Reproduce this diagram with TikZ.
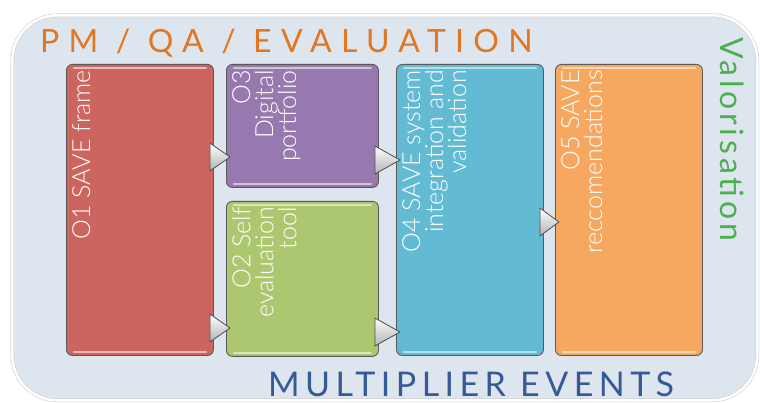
\documentclass[tikz,border=0pt]{standalone}
\usepackage{fontspec}
\setmainfont{Lato}[UprightFont={* Light}]
\newfontfamily\headfont{Lato}
\usetikzlibrary{calc}
\usetikzlibrary{positioning}
\definecolor{framefill}{RGB}{221,229,239}
\definecolor{pmorange}{RGB}{227,118,32}
\definecolor{meblue}{RGB}{55,90,150}
\definecolor{valgreen}{RGB}{76,175,80}
\definecolor{o1red}{RGB}{204,101,96}
\definecolor{o2green}{RGB}{172,199,112}
\definecolor{o3purple}{RGB}{151,121,176}
\definecolor{o4blue}{RGB}{98,187,211}
\definecolor{o5orange}{RGB}{246,168,96}
\tikzset{
  frame/.style={draw=black!18, double=white, double distance=2.5pt, line width=0.6pt,
    fill=framefill, rounded corners=45pt, anchor=north west, inner sep=0pt},
  outbox/.style={draw=black!65, line width=0.9pt, rounded corners=6pt, anchor=north west, inner sep=0pt},
  boxtext/.style={rotate=90, anchor=north east, inner sep=0pt, text=white,
    font=\fontsize{25}{23}\selectfont, align=right},
  shine/.style={line width=2.5pt, line cap=round, draw=#1!45!white},
  flowtip/.style={draw=black!70, line width=0.8pt, line join=round, top color=white, bottom color=black!30},
  heading/.style={inner sep=0pt, anchor=base west}
}

\begin{document}
\begin{tikzpicture}[x=1pt, y=-1pt]
  \useasboundingbox (0,0) rectangle (760,403);
  \node[frame, minimum width=745pt, minimum height=385pt] (bg) at (12,15) {};

  \node[heading, text=pmorange, font=\headfont\fontsize{32}{36}\selectfont\addfontfeature{LetterSpace=29}] (pm) at (40,53) {PM / QA / EVALUATION};
  \node[heading, text=meblue, font=\headfont\fontsize{34}{38}\selectfont\addfontfeature{LetterSpace=16}] (me) at (268,396) {MULTIPLIER EVENTS};
  \node[heading, rotate=-90, text=valgreen, font=\headfont\fontsize{32}{36}\selectfont\addfontfeature{LetterSpace=12}] (val) at (720,37) {Valorisation};

  \node[outbox, fill=o1red, minimum width=147pt, minimum height=291pt] (o1) at (66,64) {};
  \node[outbox, fill=o3purple, minimum width=152pt, minimum height=123pt] (o3) at (226,64) {};
  \node[outbox, fill=o2green, minimum width=152pt, minimum height=155pt, below=13pt of o3] (o2) {};
  \node[outbox, fill=o4blue, minimum width=147pt, minimum height=291pt] (o4) at (396,64) {};
  \node[outbox, fill=o5orange, minimum width=147pt, minimum height=291pt] (o5) at (555,64) {};

  \foreach \b/\c in {o1/o1red, o2/o2green, o3/o3purple, o4/o4blue, o5/o5orange}{
    \draw[shine=\c] ([shift={(8,4)}]\b.north west) -- ([shift={(-8,4)}]\b.north east);
    \draw[shine=\c] ([shift={(8,-4)}]\b.south west) -- ([shift={(-8,-4)}]\b.south east);
  }

  \node[boxtext] (o1t) at ([shift={(6,6)}]o1.north west) {O1 SAVE frame};
  \node[boxtext] (o3t) at ([shift={(6,6)}]o3.north west) {O3\\Digital\\portfolio};
  \node[boxtext] (o2t) at ([shift={(6,6)}]o2.north west) {O2 Self\\evaluation\\tool};
  \node[boxtext] (o4t) at ([shift={(6,6)}]o4.north west) {O4 SAVE system\\integration and\\validation};
  \node[boxtext] (o5t) at ([shift={(6,6)}]o5.north west) {O5 SAVE\\reccomendations};

  % arrows between the outputs
  \foreach \a/\b/\y in {o1/o3/157, o1/o2/328, o3/o4/160, o2/o4/332, o4/o5/222}{
    \coordinate (s) at (\a.east |- 0,\y);
    \coordinate (e) at (\b.west |- 0,\y);
    \shadedraw[flowtip] ([shift={(-4,-14)}]s) -- ([xshift=4pt]e) -- ([shift={(-4,14)}]s) -- cycle;
  }
\end{tikzpicture}
\end{document}
